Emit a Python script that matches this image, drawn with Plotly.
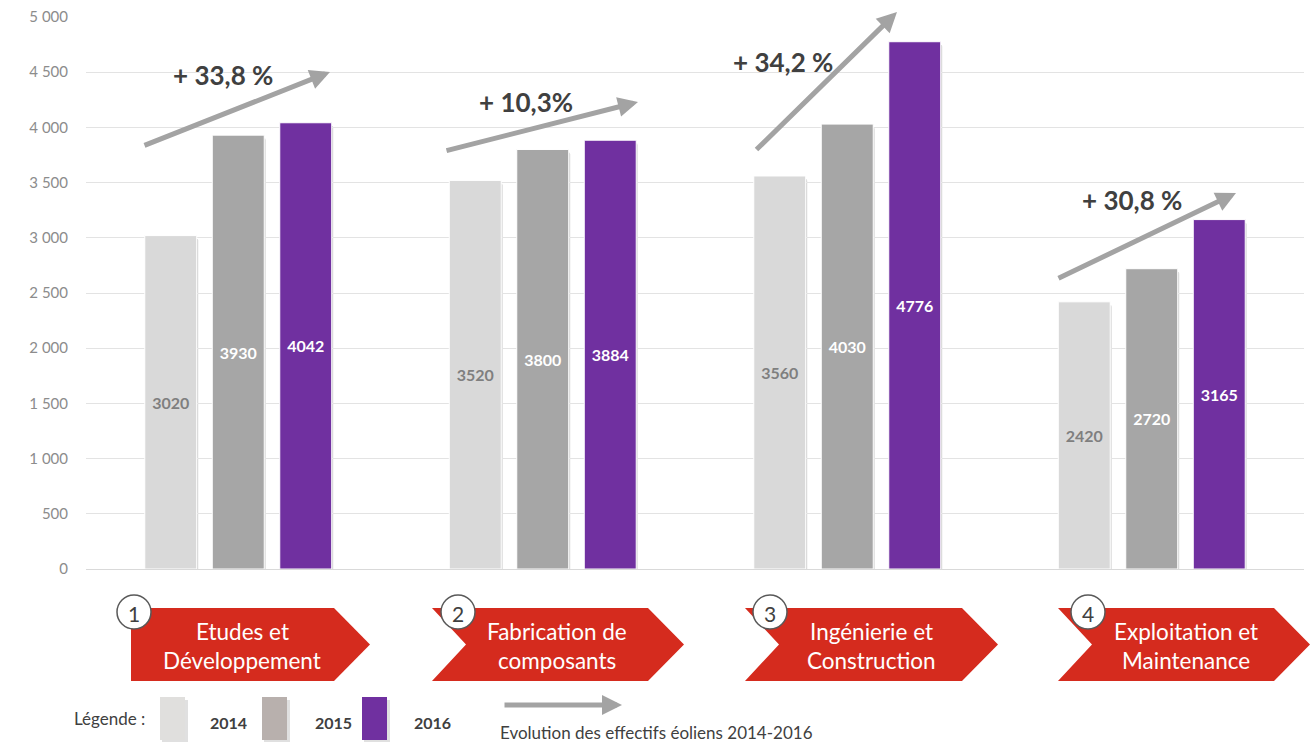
import plotly.graph_objects as go

# ---- data ----
categories = ["Etudes et<br>Développement", "Fabrication de<br>composants",
              "Ingénierie et<br>Construction", "Exploitation et<br>Maintenance"]
step_numbers = ["1", "2", "3", "4"]
years = ["2014", "2015", "2016"]
values_2014 = [3020, 3520, 3560, 2420]
values_2015 = [3930, 3800, 4030, 2720]
values_2016 = [4042, 3884, 4776, 3165]
growth_labels = ["+ 33,8 %", "+ 10,3%", "+ 34,2 %", "+ 30,8 %"]
y_ticks = [0, 500, 1000, 1500, 2000, 2500, 3000, 3500, 4000, 4500, 5000]

# ---- styling ----
W, H = 1310, 745
L, R, T, B = 86, 6, 17, 176
PW, PH = W - L - R, H - T - B
FONT = "Lato, 'Open Sans', sans-serif"
bar_colors = ["#d9d9d9", "#a6a6a6", "#7030a0"]
legend_colors = ["#e0dfdd", "#b8b0ad", "#7030a0"]
text_colors = ["#7f7f7f", "#ffffff", "#ffffff"]
RED = "#d52b1e"


def px(xp):
    return (xp - L) / PW


def py(yp):
    return (T + PH - yp) / PH


series = [values_2014, values_2015, values_2016]
xs = list(range(len(categories)))

fig = go.Figure()
for i, (yr, vals) in enumerate(zip(years, series)):
    fig.add_trace(go.Bar(
        x=xs, y=vals, name=yr,
        marker=dict(color=bar_colors[i], line=dict(color="white", width=1)),
        texttemplate="%{y:d}", textposition="inside", insidetextanchor="middle",
        textangle=0, constraintext="none",
        textfont=dict(family=FONT, size=16, color=text_colors[i], weight="bold"),
        showlegend=False, hoverinfo="skip",
    ))

bargap, bargroupgap = 0.335, 0.23
slot = (1 - bargap) / 3
barw = slot * (1 - bargroupgap)
shapes = []
annotations = []

# bar shadows (derived from data)
for i, vals in enumerate(series):
    for g, v in zip(xs, vals):
        xc = g + (i - 1) * slot
        x0 = xc + barw / 2
        shapes.append(dict(type="rect", xref="x", yref="y", layer="below",
                           x0=x0, x1=x0 + 4 / PW, y0=0, y1=v - 30,
                           fillcolor="rgba(0,0,0,0.22)", line=dict(width=0)))
        shapes.append(dict(type="rect", xref="x", yref="y", layer="below",
                           x0=x0 + 4 / PW, x1=x0 + 7 / PW, y0=0, y1=v - 40,
                           fillcolor="rgba(0,0,0,0.08)", line=dict(width=0)))

# growth arrows + labels
arrows = [((143, 146), (330, 72)), ((445, 151), (638, 102)),
          ((755, 151), (897, 12)), ((1057, 279), (1236, 193))]
label_pos = [(223, 75), (526, 102), (783, 62), (1132, 200)]
for (tail, head), lab, (lx, ly) in zip(arrows, growth_labels, label_pos):
    annotations.append(dict(xref="paper", yref="paper", x=px(head[0]), y=py(head[1]),
                            axref="pixel", ayref="pixel",
                            ax=tail[0] - head[0], ay=tail[1] - head[1],
                            showarrow=True, arrowhead=2, arrowsize=0.8,
                            arrowwidth=5, arrowcolor="#a3a3a3", text=""))
    annotations.append(dict(xref="paper", yref="paper", x=px(lx), y=py(ly),
                            text=lab, showarrow=False, xanchor="center", yanchor="middle",
                            font=dict(family=FONT, size=26, color="#404040", weight="bold")))

# chevrons
chevrons = [(131, 370, False), (432, 684, True), (745, 998, True), (1058, 1310, True)]
text_cx = [242, 557, 871, 1186]
circle_cx = [134, 458, 770, 1088]
ytop, ybot, ymid = 608, 681, 644.5
for (x0, x1, notch), cat, tcx, ccx, num in zip(chevrons, categories, text_cx, circle_cx, step_numbers):
    pts = [(x0, ytop), (x1 - 36, ytop), (x1, ymid), (x1 - 36, ybot), (x0, ybot)]
    if notch:
        pts.append((x0 + 34, ymid))
    path = "M " + " L ".join(f"{px(a):.5f},{py(b):.5f}" for a, b in pts) + " Z"
    shapes.append(dict(type="path", xref="paper", yref="paper", path=path,
                       fillcolor=RED, line=dict(width=0)))
    for line_txt, ly in zip(cat.split("<br>"), (631, 660)):
        annotations.append(dict(xref="paper", yref="paper", x=px(tcx), y=py(ly),
                                text=line_txt, showarrow=False, xanchor="center",
                                yanchor="middle",
                                font=dict(family=FONT, size=22.5, color="white")))
    r = 17
    shapes.append(dict(type="circle", xref="paper", yref="paper",
                       x0=px(ccx - r), x1=px(ccx + r), y0=py(612 + r), y1=py(612 - r),
                       fillcolor="white", line=dict(color="#595959", width=1.5)))
    annotations.append(dict(xref="paper", yref="paper", x=px(ccx), y=py(613),
                            text=num, showarrow=False, xanchor="center", yanchor="middle",
                            font=dict(family=FONT, size=21, color="#404040")))

# custom legend
annotations.append(dict(xref="paper", yref="paper", x=px(72), y=py(718), text="Légende :",
                        showarrow=False, xanchor="left", yanchor="middle",
                        font=dict(family=FONT, size=17, color="#404040")))
sw_x = [160, 262, 362]
lab_x = [228, 333, 432]
for yr, c, sx, lx in zip(years, legend_colors, sw_x, lab_x):
    shapes.append(dict(type="rect", xref="paper", yref="paper",
                       x0=px(sx + 2), x1=px(sx + 28), y0=py(742), y1=py(700),
                       fillcolor="rgba(0,0,0,0.12)", line=dict(width=0)))
    shapes.append(dict(type="rect", xref="paper", yref="paper",
                       x0=px(sx), x1=px(sx + 25), y0=py(740), y1=py(697),
                       fillcolor=c, line=dict(width=0)))
    annotations.append(dict(xref="paper", yref="paper", x=px(lx), y=py(722), text=yr,
                            showarrow=False, xanchor="center", yanchor="middle",
                            font=dict(family=FONT, size=16, color="#404040", weight="bold")))
annotations.append(dict(xref="paper", yref="paper", x=px(622), y=py(705),
                        axref="pixel", ayref="pixel", ax=503 - 622, ay=0,
                        showarrow=True, arrowhead=2, arrowsize=0.8, arrowwidth=5,
                        arrowcolor="#a3a3a3", text=""))
annotations.append(dict(xref="paper", yref="paper", x=px(498), y=py(732),
                        text="Evolution des effectifs éoliens 2014-2016",
                        showarrow=False, xanchor="left", yanchor="middle",
                        font=dict(family=FONT, size=17, color="#404040")))

fig.update_layout(
    width=W, height=H, autosize=False,
    margin=dict(l=L, r=R, t=T, b=B),
    paper_bgcolor="white", plot_bgcolor="white",
    barmode="group", bargap=bargap, bargroupgap=bargroupgap,
    separators=", ",
    font=dict(family=FONT),
    xaxis=dict(range=[-0.5, 3.5], showticklabels=False, showgrid=False,
               zeroline=False, showline=False, fixedrange=True),
    yaxis=dict(range=[0, 5000], tickvals=y_ticks, tickformat=",d",
               showgrid=True, gridcolor="#e3e3e3", gridwidth=1,
               zeroline=True, zerolinecolor="#d9d9d9", zerolinewidth=1,
               showline=False, ticks="outside", ticklen=14, tickcolor="rgba(0,0,0,0)",
               tickfont=dict(family=FONT, size=15, color="#8c8c8c")),
    shapes=shapes, annotations=annotations,
)

fig.write_html("out.html")
